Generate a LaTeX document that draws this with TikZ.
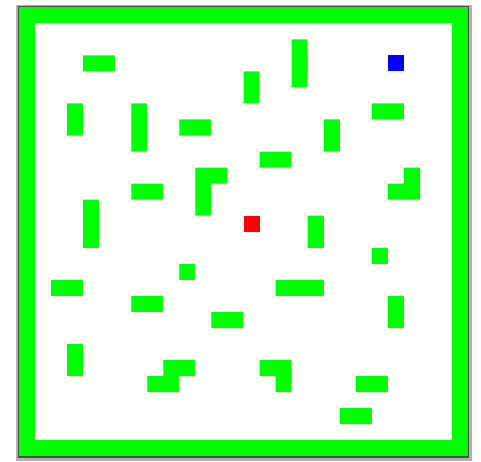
\documentclass[tikz,border=0pt]{standalone}
\begin{document}
\begin{tikzpicture}[x=1pt,y=-1pt]
\definecolor{mazegreen}{RGB}{0,255,0}
\definecolor{mazeblue}{RGB}{0,0,255}
\definecolor{mazered}{RGB}{255,0,0}
\def\s{16.04}
\def\ox{19}
\def\oy{7.2}
\useasboundingbox (0,0) rectangle (481,461);
\fill[white] (0,0) rectangle (481,461);
% frame
\fill[black!30] (16,5) rectangle (471.5,460.5);
\fill[black!70] (18,6.3) rectangle (469,458.2);
\fill[mazegreen] (\ox,\oy) rectangle ({\ox+28*\s},{\oy+28*\s});
\fill[white] ({\ox+\s},{\oy+\s}) rectangle ({\ox+27*\s},{\oy+27*\s});
% obstacles: c, r, width, height (in cells)
\fill[mazegreen]
  \foreach \c/\r/\w/\h in {4/3/2/1, 3/6/1/2, 7/6/1/3, 17/2/1/3, 14/4/1/2,
    22/6/2/1, 19/7/1/2, 10/7/2/1, 15/9/2/1, 11/10/1/3, 12/10/1/1,
    18/13/1/2, 10/16/1/1, 16/17/3/1, 7/11/2/1, 4/12/1/3, 24/10/1/2,
    23/11/1/1, 22/15/1/1, 2/17/2/1, 7/18/2/1, 12/19/2/1, 23/18/1/2,
    3/21/1/2, 9/22/2/1, 8/23/2/1, 15/22/2/1, 16/23/1/1, 21/23/2/1,
    20/25/2/1}
  { ({\ox+\c*\s},{\oy+\r*\s}) rectangle ({\ox+(\c+\w)*\s},{\oy+(\r+\h)*\s}) };
\fill[mazeblue] ({\ox+23*\s},{\oy+3*\s}) rectangle ++(\s,\s);
\fill[mazered] ({\ox+14*\s},{\oy+13*\s}) rectangle ++(\s,\s);
\end{tikzpicture}
\end{document}
